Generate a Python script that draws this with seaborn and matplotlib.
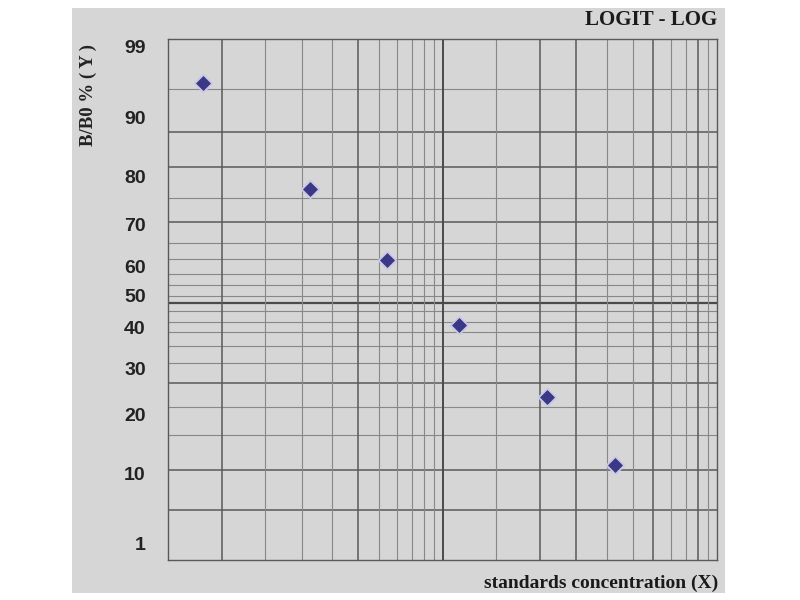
import numpy as np
import matplotlib
matplotlib.use("Agg")
import matplotlib.pyplot as plt
import matplotlib.patches as mpatches
import seaborn as sns

# standards
conc = [1.34, 3.29, 6.28, 11.5, 24.0, 42.5]
b_b0 = [94.3, 77.3, 61.4, 40.6, 23.7, 11.4]

y_ticks = [1, 10, 20, 30, 40, 50, 60, 70, 80, 90, 99]

# the printed paper is not a true logit ruling, so the scale is taken
# from where the printed labels sit (percent -> paper height)
knot_pct = [0, 1, 10, 20, 30, 40, 50, 60, 70, 80, 90, 99, 100]
knot_pos = [-560, -543, -473, -414, -368, -327, -295, -266, -224, -176, -117, -46, -39]

def fwd(p):
    return np.interp(p, knot_pct, knot_pos)

def inv(v):
    return np.interp(v, knot_pos, knot_pct)

# ruling of the paper (percent, dark line?)
grid_y = [93.5, 87.5, 81.5, 75.4, 70.4, 65.5, 61.7, 57.2, 53.4, 49.7, 47.5,
          45.0, 41.6, 38.8, 35.4, 31.2, 26.7, 21.5, 16.4, 10.5, 5.2]
dark_y = [87.5, 81.5, 70.4, 47.5, 26.7, 10.5, 5.2]
grid_x_dec = [1.57, 2.26, 3.07, 3.96, 4.94, 5.87, 6.82, 7.74, 8.56, 9.31]
dark_x = [1.57, 4.94, 10, 22.6, 30.7, 58.7, 85.6]

sns.set_style("white")
bg = "#d6d6d6"

fig = plt.figure(figsize=(8, 6), dpi=100)
fig.patch.set_facecolor("white")
fig.patches.append(mpatches.Rectangle((72 / 800, 1 - 593 / 600), 653 / 800, 585 / 600,
                                      transform=fig.transFigure, facecolor=bg,
                                      edgecolor="none", zorder=-10))

ax = fig.add_axes([168 / 800, 1 - 560 / 600, 549 / 800, 521 / 600])
ax.set_zorder(5)
ax.set_facecolor(bg)
ax.set_xscale("log")
ax.set_yscale("function", functions=(fwd, inv))
ax.set_xlim(1, 100)
ax.set_ylim(0, 100)

# paper ruling
for v in grid_y:
    dk = any(abs(v - d) < 1e-6 for d in dark_y)
    ax.axhline(v, color="#5a5a5a" if dk else "#888888",
               lw=1.1 if dk else 0.8, zorder=1)
ax.axhline(47.5, color="#4a4a4a", lw=1.6, zorder=1)
for dec in [1, 10]:
    for m in grid_x_dec:
        v = m * dec
        dk = any(abs(v - d) < 0.05 for d in dark_x)
        ax.axvline(v, color="#5a5a5a" if dk else "#888888",
                   lw=1.1 if dk else 0.8, zorder=1)
ax.axvline(10, color="#4a4a4a", lw=1.4, zorder=1)

sns.scatterplot(x=conc, y=b_b0, marker="D", s=80, color="#3b3886",
                edgecolor="#c9c8e6", linewidth=1.3, ax=ax, zorder=5)

for sp in ax.spines.values():
    sp.set_color("#5a5a5a")
    sp.set_linewidth(1.0)

ax.set_xticks([])
ax.set_xticks([], minor=True)
ax.set_yticks(y_ticks)
ax.set_yticks([], minor=True)
ax.set_yticklabels([str(t) for t in y_ticks], fontsize=14, fontweight="bold",
                   family="Liberation Sans", color="#222222")
ax.tick_params(axis="y", length=0, pad=16)
ax.set_xlabel("")
ax.set_ylabel("")

fig.text(88 / 800, 1 - 95 / 600, "B/B0 % ( Y )", rotation=90, ha="center", va="center",
         fontsize=13.5, fontweight="bold", family="Liberation Serif", color="#222222")
fig.text(717 / 800, 1 - 20 / 600, "LOGIT - LOG", ha="right", va="center",
         fontsize=15, fontweight="bold", family="Liberation Serif", color="#1a1a1a")
fig.text(718 / 800, 1 - 583 / 600, "standards concentration (X)", ha="right", va="center",
         fontsize=14, fontweight="bold", family="Liberation Serif", color="#1a1a1a")

fig.savefig("out.png", dpi=100, facecolor="white")
